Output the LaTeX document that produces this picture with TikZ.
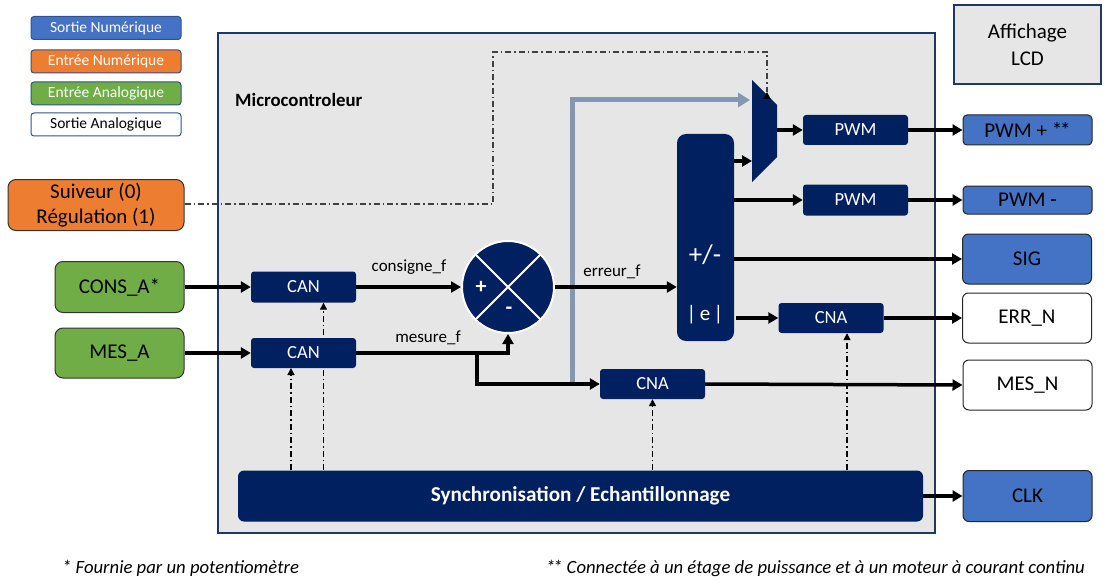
\documentclass[tikz,border=0pt]{standalone}
\usepackage{fontspec}
\setmainfont{Carlito}
\usetikzlibrary{arrows.meta}
\definecolor{navy}{HTML}{002060}
\definecolor{mblue}{HTML}{4472C4}
\definecolor{morange}{HTML}{ED7D31}
\definecolor{mgreen}{HTML}{70AD47}
\definecolor{mgray}{HTML}{E7E6E6}
\definecolor{gline}{HTML}{8497B0}
\definecolor{frameb}{HTML}{1F3864}
\definecolor{legb}{HTML}{2F528F}
\definecolor{modeln}{HTML}{404040}
\tikzset{
  navybox/.style={fill=navy, rounded corners=3pt, text=white, inner sep=0pt, font=\fontsize{18.5}{21}\selectfont},
  outbox/.style={draw=black!85, line width=1pt, rounded corners=6pt, inner sep=0pt, minimum width=129pt, font=\fontsize{21}{25}\selectfont},
  inbox/.style={draw=black!80, line width=1pt, rounded corners=8pt, inner sep=0pt, align=center, font=\fontsize{21}{25}\selectfont},
  legbox/.style={draw=legb, line width=1pt, rounded corners=3pt, minimum width=150pt, minimum height=23pt, inner sep=0pt, font=\fontsize{15.5}{18}\selectfont},
  arr/.style={line width=3.5pt, -{Triangle[length=10pt,width=11pt]}},
  ln/.style={line width=3.5pt},
  sarr/.style={line width=1.3pt, dash pattern=on 6pt off 3pt on 1.5pt off 3pt, -{Triangle[length=7pt,width=7pt]}},
  lbl/.style={inner sep=0pt, font=\fontsize{17}{20}\selectfont},
  fnote/.style={inner sep=0pt, font=\itshape\fontsize{18.7}{21}\selectfont},
}
\begin{document}
\begin{tikzpicture}[x=1pt,y=-1pt]
\useasboundingbox (0,0) rectangle (1116,583);
% frame
\node[draw=frameb, line width=2pt, fill=mgray, minimum width=717pt, minimum height=500pt, inner sep=0pt] (mcu) at (576.5,283) {};
\node[anchor=west, inner sep=0pt, font=\bfseries\fontsize{18.8}{21}\selectfont] (mcul) at (235,100) {Microcontroleur};
% legend
\node[legbox, fill=mblue, text=white] (l1) at (106,28) {Sortie Numérique};
\node[legbox, fill=morange, text=white] (l2) at (106,61.5) {Entrée Numérique};
\node[legbox, fill=mgreen, text=white] (l3) at (106,93.5) {Entrée Analogique};
\node[legbox, fill=white, text=black] (l4) at (106,124.5) {Sortie Analogique};
% LCD
\node[draw=frameb, line width=2pt, fill=mgray, minimum width=147pt, minimum height=79pt, inner sep=0pt, align=center, font=\fontsize{21}{27}\selectfont] (lcd) at (1027.5,44.5) {Affichage\\LCD};
% inputs
\node[inbox, fill=morange, minimum width=176pt, minimum height=51pt] (suiv) at (96,205) {Suiveur (0)\\Régulation (1)};
\node[inbox, fill=mgreen, minimum width=129pt, minimum height=51pt] (consa) at (119.5,287) {CONS\_A*};
\node[inbox, fill=mgreen, minimum width=129pt, minimum height=50pt] (mesa) at (119.5,353) {MES\_A};
% outputs
\node[outbox, fill=mblue, minimum height=30pt, rounded corners=4pt] (pwmp) at (1027.5,130) {PWM + *\kern-2pt*};
\node[outbox, fill=mblue, minimum height=28pt, rounded corners=4pt] (pwmm) at (1027.5,200) {PWM -};
\node[outbox, fill=mblue, minimum height=50pt] (sig) at (1027,259) {SIG};
\node[outbox, fill=white, minimum height=50pt] (errn) at (1027,318) {ERR\_N};
\node[outbox, fill=white, minimum height=50pt] (mesn) at (1027.5,385) {MES\_N};
\node[outbox, fill=mblue, minimum height=51pt] (clk) at (1027.5,496) {CLK};
% sync block
\node[navybox, rounded corners=6pt, minimum width=685pt, minimum height=51pt, font=\bfseries\fontsize{21.2}{24}\selectfont] (sync) at (580.5,496) {Synchronisation / Echantillonnage};
% CAN blocks with dash-dot sync arrows
\node[navybox, minimum width=105pt, minimum height=31pt] (can1) at (303.5,287) {CAN};
\coordinate (t1) at ([xshift=20pt]can1.south);
\coordinate (t2) at (291,368);
\draw[sarr] (sync.north -| t1) -- (t1);
\node[navybox, minimum width=105pt, minimum height=30pt] (can2) at (303.5,353) {CAN};
\draw[sarr] (sync.north -| t2) -- (t2);
% CNA blocks
\node[navybox, minimum width=105pt, minimum height=30pt] (cna1) at (831,318) {CNA};
\node[navybox, minimum width=105pt, minimum height=30pt] (cna2) at (652.5,384) {CNA};
\draw[sarr] (sync.north -| cna2.south) -- (cna2.south);
\coordinate (t3) at ([xshift=16pt]cna1.south);
\draw[sarr] (sync.north -| t3) -- (t3);
% PWM blocks
\node[navybox, minimum width=105pt, minimum height=30pt] (pwm1) at (855.5,130) {PWM};
\node[navybox, minimum width=105pt, minimum height=31pt] (pwm2) at (855.5,200) {PWM};
% +/- block
\node[fill=navy, rounded corners=9pt, minimum width=57pt, minimum height=207pt, inner sep=0pt] (pm) at (705.5,237.5) {};
\node[text=white, inner sep=0pt, font=\fontsize{27}{30}\selectfont] (pmt) at (705,255) {+/-};
\node[text=white, inner sep=0pt, font=\fontsize{21}{24}\selectfont] (abse) at (705,315) {|\,e\,|};
% mux
\fill[navy] (752,80) -- (777,105) -- (777,157) -- (752,182) -- cycle;
\coordinate (muxtop) at (750,100);
\coordinate (muxbot) at (752,161);
\coordinate (muxout) at (777,130);
\coordinate (muxsel) at (767,92);
% summing junction
\node[circle, fill=navy, draw=white, line width=2pt, minimum size=92pt, inner sep=0pt] (sum) at (508,287) {};
\draw[white, line width=2pt] (sum.north west) -- (sum.south east) (sum.north east) -- (sum.south west);
\node[text=white, inner sep=0pt, font=\bfseries\fontsize{22}{24}\selectfont] (plus) at (481,287) {+};
\node[text=white, inner sep=0pt, font=\bfseries\fontsize{22}{24}\selectfont] (minus) at (509,311) {-};
% mode select line
\coordinate (mc) at (493,52);
\draw[modeln, line width=1.3pt, dash pattern=on 6pt off 3pt on 1.5pt off 3pt] (suiv.east |- 0,204) -| (mc) -| (muxsel);
\draw[line width=1.3pt, -{Triangle[length=7pt,width=7pt]}] ([yshift=-6pt]muxsel) -- (muxsel);
% gray line
\coordinate (g0) at (572,384);
\draw[gline, line width=5pt, -{Triangle[length=12pt,width=14pt]}] (g0) |- (muxtop);
% signal arrows
\draw[arr] (consa.east) -- (can1.west);
\draw[arr] (mesa.east) -- (can2.west);
\draw[arr] (can1.east) -- (sum.west);
\node[lbl] (consl) at (409,267) {consigne\_f};
\draw[arr] (can2.east) -| (sum.south);
\node[lbl] (mesl) at (428,338) {mesure\_f};
\coordinate (br) at (477,353);
\draw[arr] (br) |- (cna2.west);
\draw[arr] (sum.east) -- (pm.west |- sum.east);
\node[lbl] (errl) at (612,272) {erreur\_f};
\draw[arr] (pm.east |- muxbot) -- (muxbot);
\draw[arr] (muxout) -- (pwm1.west);
\draw[arr] (pm.east |- pwm2) -- (pwm2.west);
\draw[arr] (pm.east |- sig) -- (sig.west);
\draw[arr] ([xshift=2pt]pm.east |- cna1) -- (cna1.west);
\draw[arr] (pwm1.east) -- (pwmp.west);
\draw[arr] (pwm2.east) -- (pwmm.west);
\draw[arr] (cna1.east) -- (errn.west);
\draw[arr] (cna2.east) -- (mesn.west);
\draw[arr] (sync.east) -- (clk.west);
% footnotes
\node[fnote, anchor=west] (fn1) at (62,568) {* Fournie par un potentiomètre};
\node[fnote, anchor=east] (fn2) at (1085,568) {*\kern-2pt* Connectée à un étage de puissance et à un moteur à courant continu};
\end{tikzpicture}
\end{document}
